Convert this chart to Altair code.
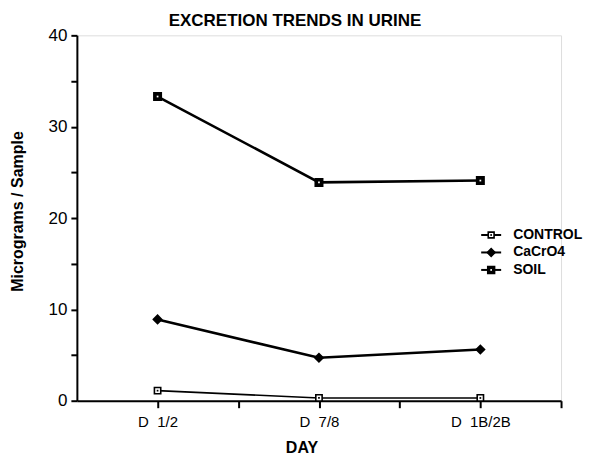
import altair as alt
import pandas as pd

# ---- data ----
days = ["D\u00a0\u00a01/2", "D\u00a0\u00a07/8", "D\u00a0\u00a01B/2B"]
series = ["CONTROL", "CaCrO4", "SOIL"]
control = [1.1, 0.3, 0.3]
cacro4 = [8.9, 4.7, 5.6]
soil = [33.3, 23.9, 24.1]

rows = []
for s, vals in zip(series, [control, cacro4, soil]):
    for i, (d, v) in enumerate(zip(days, vals)):
        rows.append({"series": s, "day": d, "pos": 2 * i + 1, "value": v})
df = pd.DataFrame(rows)

FONT = "Liberation Sans"

# label expression mapping tick positions to day names
label_expr = "''"
for i, d in reversed(list(enumerate(days))):
    label_expr = f"datum.value == {2 * i + 1} ? '{d}' : ({label_expr})"

x_enc = alt.X(
    "pos:Q",
    scale=alt.Scale(domain=[0, 6], nice=False, zero=False),
    axis=alt.Axis(
        values=[1, 2, 3, 4, 5, 6],
        labelExpr=label_expr,
        title="DAY",
        titleFont=FONT, titleFontSize=16, titleFontWeight="bold", titleColor="black",
        titleX=225, titleY=47, titleBaseline="middle",
        labelFont=FONT, labelFontSize=15, labelColor="black", labelPadding=7,
        grid=False, domainColor="black", domainWidth=2,
        tickColor="black", tickWidth=2, tickSize=7,
    ),
)
y_enc = alt.Y(
    "value:Q",
    scale=alt.Scale(domain=[0, 40], nice=False),
    axis=alt.Axis(
        values=[0, 5, 10, 15, 20, 25, 30, 35, 40],
        labelExpr="datum.value % 10 == 0 ? datum.value : ''",
        title="Micrograms / Sample",
        titleFont=FONT, titleFontSize=16, titleFontWeight="bold", titleColor="black",
        titleX=-59, titleY=176, titleAngle=-90, titleAlign="center", titleBaseline="middle",
        labelFont=FONT, labelFontSize=17, labelColor="black", labelPadding=4,
        grid=False, domainColor="black", domainWidth=2,
        tickColor="black", tickWidth=2, tickSize=6,
    ),
)

# marker style per series: shape, fill, size, line width, centre dot colour
style = {
    "CONTROL": ("square", "white", 40, 1.6, "black"),
    "CaCrO4": ("diamond", "black", 70, 2.6, None),
    "SOIL": ("square", "black", 55, 2.6, "white"),
}

layers = []
for s in series:
    shp, fil, sz, lw, dot = style[s]
    sb = alt.Chart(df).transform_filter(alt.datum.series == s)
    layers.append(sb.mark_line(color="black", strokeWidth=lw).encode(x=x_enc, y=y_enc))
    layers.append(sb.mark_point(shape=shp, fill=fil, stroke="black", strokeWidth=1.6, size=sz, opacity=1).encode(
        x="pos:Q", y="value:Q"))
    if dot:
        layers.append(sb.mark_point(shape="square", filled=True, size=3, opacity=1, color=dot).encode(
            x="pos:Q", y="value:Q"))

# ---- manual legend ----
for i, s in enumerate(series):
    shp, fil, sz, lw, dot = style[s]
    ly = 200 + 17.5 * i
    lb = alt.Chart(pd.DataFrame({"series": [s]}))
    layers.append(lb.mark_rule(color="black", strokeWidth=2).encode(
        x=alt.value(405), x2=alt.value(425), y=alt.value(ly)))
    layers.append(lb.mark_point(shape=shp, fill=fil, stroke="black", strokeWidth=1.6, size=sz * 0.85, opacity=1).encode(
        x=alt.value(415), y=alt.value(ly)))
    if dot:
        layers.append(lb.mark_point(shape="square", filled=True, size=3, opacity=1, color=dot).encode(
            x=alt.value(415), y=alt.value(ly)))
    layers.append(lb.mark_text(align="left", baseline="middle", font=FONT, fontSize=14,
                               fontWeight="bold", color="black").encode(
        x=alt.value(437), y=alt.value(ly), text="series:N"))

chart = alt.layer(*layers).properties(
    width=485, height=366,
    title=alt.TitleParams("EXCRETION TRENDS IN URINE", font=FONT, fontSize=17, fontWeight="bold",
                          color="black", anchor="middle", dx=-24, dy=13, offset=9),
    autosize=alt.AutoSizeParams(type="none"),
    padding={"left": 69, "top": 27, "right": 26, "bottom": 54},
).configure_view(stroke=None).configure(background="white")

chart.save("out.html", embed_options={"renderer": "svg", "actions": False})
